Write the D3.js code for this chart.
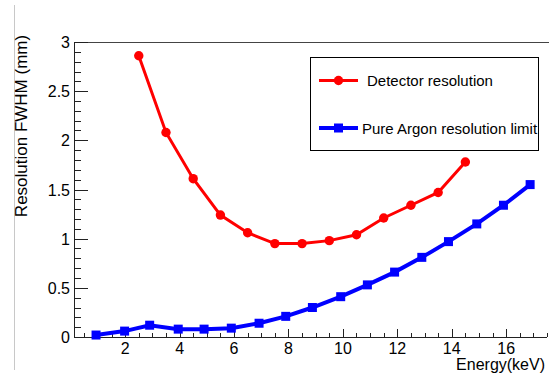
<!DOCTYPE html>
<html>
<head>
<meta charset="utf-8">
<script src="https://cdn.jsdelivr.net/npm/d3@7"></script>
<style>
  body { margin: 0; background: #fff; }
  svg { display: block; font-family: "Liberation Sans", Arial, sans-serif; }
</style>
</head>
<body>
<div id="chart"></div>
<script>
// Detector resolution (red circles)
const detEnergy = [2.5, 3.5, 4.5, 5.5, 6.5, 7.5, 8.5, 9.5, 10.5, 11.5, 12.5, 13.5, 14.5];
const detFwhm = [2.86, 2.08, 1.61, 1.24, 1.06, 0.95, 0.95, 0.98, 1.04, 1.21, 1.34, 1.47, 1.78];

// Pure argon resolution limit (blue squares)
const argEnergy = [0.93, 1.98, 2.9, 3.95, 4.9, 5.9, 6.92, 7.9, 8.88, 9.92, 10.9, 11.9, 12.9, 13.88, 14.92, 15.9, 16.88];
const argFwhm = [0.02, 0.06, 0.12, 0.08, 0.08, 0.09, 0.14, 0.21, 0.30, 0.41, 0.53, 0.66, 0.81, 0.97, 1.15, 1.34, 1.55];

const xTicks = [2, 4, 6, 8, 10, 12, 14, 16];
const yTicks = [0, 0.5, 1, 1.5, 2, 2.5, 3];

const width = 549, height = 376;
const mLeft = 74, mTop = 42, mBottom = 337, mRight = 547;

const svg = d3.select("#chart").append("svg")
    .attr("width", width)
    .attr("height", height);

const x = d3.scaleLinear().domain([0.12, 17.5]).range([mLeft, mRight]);
const y = d3.scaleLinear().domain([0, 3]).range([mBottom, mTop]);

// stray gray line at the left of the crop
svg.append("line")
    .attr("x1", 14.5).attr("x2", 14.5).attr("y1", 5).attr("y2", 370)
    .attr("stroke", "#c8c8c8").attr("stroke-width", 1);

// frame top
svg.append("line")
    .attr("x1", mLeft).attr("x2", width).attr("y1", mTop + 0.5).attr("y2", mTop + 0.5)
    .attr("stroke", "#444").attr("stroke-width", 1);

// x axis, ticks pointing inward
const xMinor = d3.range(0.5, 17.51, 0.5).filter(v => v % 2 !== 0);
const xAxis = svg.append("g").attr("transform", `translate(0,${mBottom})`);
xAxis.append("line")
    .attr("x1", mLeft).attr("x2", mRight).attr("y1", 0.5).attr("y2", 0.5)
    .attr("stroke", "#222");
xAxis.selectAll("line.minor").data(xMinor).join("line")
    .attr("class", "minor")
    .attr("x1", d => Math.round(x(d)) + 0.5).attr("x2", d => Math.round(x(d)) + 0.5)
    .attr("y1", 0).attr("y2", -4).attr("stroke", "#222");
xAxis.selectAll("line.major").data(xTicks).join("line")
    .attr("class", "major")
    .attr("x1", d => Math.round(x(d)) + 0.5).attr("x2", d => Math.round(x(d)) + 0.5)
    .attr("y1", 0).attr("y2", -8).attr("stroke", "#222");
xAxis.selectAll("text").data(xTicks).join("text")
    .attr("x", d => x(d)).attr("y", 17)
    .attr("text-anchor", "middle").attr("font-size", 16)
    .text(d => d);

// y axis
const yMinor = d3.range(0, 3.001, 0.1).filter(v => Math.abs(v * 2 - Math.round(v * 2)) > 0.01);
const yAxis = svg.append("g").attr("transform", `translate(${mLeft},0)`);
yAxis.append("line")
    .attr("x1", 0.5).attr("x2", 0.5).attr("y1", mTop).attr("y2", mBottom)
    .attr("stroke", "#222");
yAxis.selectAll("line.minor").data(yMinor).join("line")
    .attr("class", "minor")
    .attr("x1", 0).attr("x2", 7)
    .attr("y1", d => Math.round(y(d)) + 0.5).attr("y2", d => Math.round(y(d)) + 0.5)
    .attr("stroke", "#222");
yAxis.selectAll("line.major").data(yTicks).join("line")
    .attr("class", "major")
    .attr("x1", 0).attr("x2", 14)
    .attr("y1", d => Math.round(y(d)) + 0.5).attr("y2", d => Math.round(y(d)) + 0.5)
    .attr("stroke", "#222");
yAxis.selectAll("text").data(yTicks).join("text")
    .attr("x", -4).attr("y", d => y(d) + 6)
    .attr("text-anchor", "end").attr("font-size", 16)
    .text(d => d);

// axis titles
svg.append("text")
    .attr("x", 545).attr("y", 370)
    .attr("text-anchor", "end").attr("font-size", 16)
    .text("Energy(keV)");
svg.append("text")
    .attr("transform", "translate(27,126) rotate(-90)")
    .attr("text-anchor", "middle").attr("font-size", 17)
    .text("Resolution FWHM (mm)");

// series
const det = detEnergy.map((e, i) => ({ e, v: detFwhm[i] }));
const arg = argEnergy.map((e, i) => ({ e, v: argFwhm[i] }));
const line = d3.line().x(d => x(d.e)).y(d => y(d.v));

svg.append("path").datum(det)
    .attr("d", line).attr("fill", "none")
    .attr("stroke", "#ff0000").attr("stroke-width", 3);
svg.selectAll("circle.det").data(det).join("circle")
    .attr("class", "det")
    .attr("cx", d => x(d.e)).attr("cy", d => y(d.v)).attr("r", 4.7)
    .attr("fill", "#ff0000");

svg.append("path").datum(arg)
    .attr("d", line).attr("fill", "none")
    .attr("stroke", "#0000ff").attr("stroke-width", 4);
svg.selectAll("rect.arg").data(arg).join("rect")
    .attr("class", "arg")
    .attr("x", d => x(d.e) - 4.5).attr("y", d => y(d.v) - 4.5)
    .attr("width", 9).attr("height", 9)
    .attr("fill", "#0000ff");

// legend
const leg = svg.append("g");
leg.append("rect")
    .attr("x", 310.5).attr("y", 57.5).attr("width", 228).attr("height", 93)
    .attr("fill", "#fff").attr("stroke", "#000").attr("stroke-width", 1);
leg.append("line")
    .attr("x1", 319).attr("x2", 358).attr("y1", 80.5).attr("y2", 80.5)
    .attr("stroke", "#ff0000").attr("stroke-width", 3);
leg.append("circle")
    .attr("cx", 338.5).attr("cy", 80.5).attr("r", 4.7).attr("fill", "#ff0000");
leg.append("text")
    .attr("x", 367).attr("y", 86).attr("font-size", 15)
    .text("Detector resolution");
leg.append("line")
    .attr("x1", 319).attr("x2", 358).attr("y1", 128).attr("y2", 128)
    .attr("stroke", "#0000ff").attr("stroke-width", 4);
leg.append("rect")
    .attr("x", 334).attr("y", 123.5).attr("width", 9).attr("height", 9).attr("fill", "#0000ff");
leg.append("text")
    .attr("x", 362).attr("y", 133.5).attr("font-size", 15)
    .text("Pure Argon resolution limit");
</script>
</body>
</html>
